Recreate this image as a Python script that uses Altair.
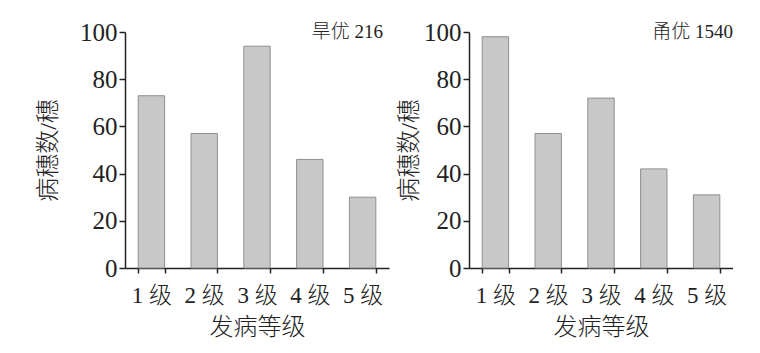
import altair as alt
import pandas as pd

grades = ["1 级", "2 级", "3 级", "4 级", "5 级"]
values_a = [73, 57, 94, 46, 30]
values_b = [98, 57, 72, 42, 31]
varieties = ["旱优 216", "甬优 1540"]
y_title = "病穗数/穗"
x_title = "发病等级"
y_ticks = [0, 20, 40, 60, 80, 100]

FONT = "Liberation Serif, Noto Sans CJK SC"
W, H = 264, 236


def panel(vals, name, label_dx, y_title_pad):
    df = pd.DataFrame({"grade": grades, "count": vals})
    bars = alt.Chart(df).mark_bar(
        fill="#c8c8c8", stroke="#8f8f8f", strokeWidth=1
    ).encode(
        x=alt.X("grade:N", sort=grades, title=x_title,
                scale=alt.Scale(paddingInner=0.5, paddingOuter=0.25),
                axis=alt.Axis(labelAngle=0, tickBand="extent", tickSize=5,
                              labelPadding=11, titlePadding=8,
                              labelFontSize=23, titleFontSize=24)),
        y=alt.Y("count:Q", title=y_title,
                scale=alt.Scale(domain=[0, 100], nice=False),
                axis=alt.Axis(values=y_ticks, tickSize=6, labelPadding=2,
                              titlePadding=y_title_pad, grid=False,
                              labelFontSize=25, titleFontSize=24)),
    )
    lab = alt.Chart(pd.DataFrame({"t": [name]})).mark_text(
        align="right", baseline="middle", fontSize=19, font=FONT,
        color="#222", dx=label_dx, fontWeight=300
    ).encode(text="t:N", x=alt.value(W), y=alt.value(0))
    return (bars + lab).properties(width=W, height=H)


chart = alt.hconcat(
    panel(values_a, varieties[0], -6, 19),
    panel(values_b, varieties[1], 0, 2),
    spacing=8,
).properties(
    padding={"left": 36, "top": 20, "right": 0, "bottom": 0}
).configure_view(stroke=None).configure_axis(
    domainColor="#222", tickColor="#222", labelColor="#222", titleColor="#222",
    labelFont=FONT, titleFont=FONT, titleFontWeight=300, labelFontWeight=300,
    domainWidth=1.5, tickWidth=1.5
)

chart.save("out.html", embed_options={"renderer": "svg", "actions": False})
